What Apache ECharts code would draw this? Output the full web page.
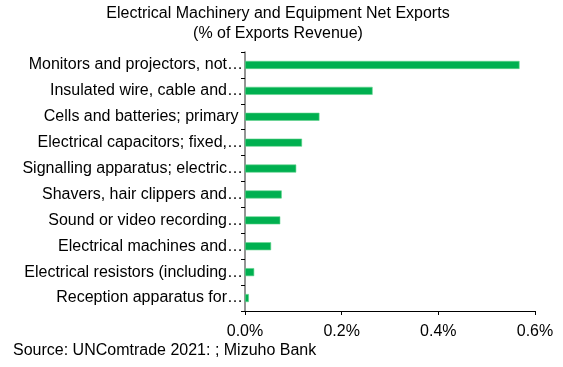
<!DOCTYPE html>
<html>
<head>
<meta charset="utf-8">
<script src="https://cdn.jsdelivr.net/npm/echarts@6/dist/echarts.min.js"></script>
<style>
html, body { margin: 0; padding: 0; background: #fff; }
#chart { width: 563px; height: 367px; }
</style>
</head>
<body>
<div id="chart"></div>
<script>
// categories listed top to bottom as in the picture
const categories = [
    "Monitors and projectors, not\u2026",
    "Insulated wire, cable and\u2026",
    "Cells and batteries; primary ",
    "Electrical capacitors; fixed,\u2026",
    "Signalling apparatus; electric\u2026",
    "Shavers, hair clippers and\u2026",
    "Sound or video recording\u2026",
    "Electrical machines and\u2026",
    "Electrical resistors (including\u2026",
    "Reception apparatus for\u2026"
];

// net exports, % of exports revenue
const netExports = [0.568, 0.264, 0.154, 0.118, 0.106, 0.076, 0.073, 0.054, 0.019, 0.008];

const xTicks = [0, 0.2, 0.4, 0.6];

const titleLines = ["Electrical Machinery and Equipment Net Exports", "(% of Exports Revenue)"];
const sourceNote = "Source: UNComtrade 2021: ; Mizuho Bank";

const font = "Liberation Sans, Arial, sans-serif";

const chart = echarts.init(document.getElementById("chart"));

chart.setOption({
    animation: false,
    graphic: [{
        type: "text",
        x: 278,
        y: 4,
        style: {
            text: titleLines.join("\n"),
            font: "16px " + font,
            lineHeight: 20,
            align: "center",
            fill: "#000"
        }
    }, {
        type: "text",
        left: 13,
        top: 343,
        style: {
            text: sourceNote,
            font: "16px " + font,
            fill: "#000"
        }
    }],
    grid: {
        left: 245,
        right: 28,
        top: 52,
        bottom: 56,
        containLabel: false
    },
    xAxis: {
        type: "value",
        min: xTicks[0],
        max: xTicks[xTicks.length - 1],
        interval: 0.2,
        axisLine: { show: true, lineStyle: { color: "#000", width: 1 } },
        axisTick: { show: true, length: 4, lineStyle: { color: "#000" } },
        splitLine: { show: false },
        axisLabel: {
            fontFamily: font,
            fontSize: 16,
            color: "#000",
            margin: 13,
            formatter: v => v.toFixed(1) + "%"
        }
    },
    yAxis: {
        type: "category",
        inverse: true,
        data: categories,
        axisLine: { show: true, lineStyle: { color: "#707070", width: 1.5 } },
        axisTick: { show: true, length: 4, lineStyle: { color: "#000" } },
        axisLabel: {
            fontFamily: font,
            fontSize: 16,
            color: "#000",
            margin: 2
        }
    },
    series: [{
        type: "bar",
        data: netExports,
        barWidth: 8,
        itemStyle: { color: "#00B050", borderColor: "#5fd38c", borderWidth: 0.6 }
    }]
});
</script>
</body>
</html>
